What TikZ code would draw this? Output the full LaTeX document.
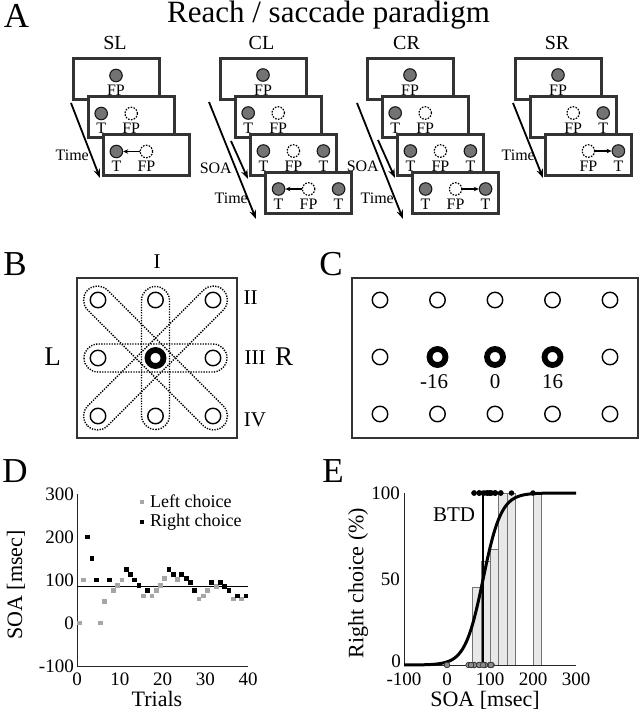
\documentclass[tikz,border=0pt]{standalone}
\usepackage{fontspec}
\setmainfont{Liberation Serif}
\usetikzlibrary{arrows.meta,positioning}
\newcommand{\fsz}[1]{\fontsize{#1}{#1}\selectfont}

\begin{document}
\begin{tikzpicture}[
  x=1pt, y=-1pt,
  panel/.style={font=\fsz{35}, inner sep=0, anchor=base},
  ttl/.style={font=\fsz{31}, inner sep=0, anchor=base},
  cond/.style={font=\fsz{20}, inner sep=0, anchor=base},
  frm/.style={draw=black!80, line width=3pt, fill=white, minimum width=86pt, minimum height=41pt, inner sep=0},
  tdot/.style={circle, draw=black!90, fill=black!55, line width=1.1pt, minimum size=12.5pt, inner sep=0},
  fpdash/.style={circle, draw, fill=white, dash pattern=on 1.6pt off 1.3pt, line width=1.2pt, minimum size=12.5pt, inner sep=0},
  lbl/.style={font=\fsz{16}, inner sep=0, anchor=base},
  timelbl/.style={font=\fsz{16}, inner sep=0, anchor=east},
  timearr/.style={-{Stealth[length=9pt,width=6.5pt]}, line width=1.8pt},
  movearr/.style={-{Stealth[length=5pt,width=4.5pt]}, line width=1.3pt},
  bbox/.style={draw=black!80, line width=1.6pt},
  bloop/.style={draw=black, line width=1.4pt, dash pattern=on 1.3pt off 1.3pt, rounded corners=14pt},
  bring/.style={circle, draw, fill=white, line width=1.4pt, minimum size=15.5pt, inner sep=0},
  bthick/.style={circle, draw, fill=white, line width=5.8pt, minimum size=16pt, inner sep=0},
  blbl/.style={font=\fsz{21}, inner sep=0},
  sidelbl/.style={font=\fsz{27}, inner sep=0},
  axln/.style={draw=black!85, line width=1pt},
  tklbl/.style={font=\fsz{19}, inner sep=0},
  leglbl/.style={font=\fsz{18}, inner sep=0, anchor=west},
  axlbl/.style={font=\fsz{22}, inner sep=0},
  lsq/.style={fill=black!35, minimum size=4.8pt, inner sep=0},
  rsq/.style={fill=black, minimum size=4.8pt, inner sep=0},
  ebar/.style={draw=black!55, fill=black!9, line width=0.8pt},
  rdot/.style={circle, fill=black, minimum size=5.5pt, inner sep=0},
  ldot/.style={circle, draw=black!80, fill=black!45, line width=0.6pt, minimum size=5.5pt, inner sep=0},
  sigm/.style={line width=3pt},
  btd/.style={line width=2.2pt}
]
\useasboundingbox (0,0) rectangle (640,719);

\node[panel] (la) at (16.5,28) {A};
\node[ttl] (title) at (328.5,23) {Reach / saccade paradigm};
\node[cond] (sl) at (115,50) {SL};
\node[cond] (cl) at (261.5,50) {CL};
\node[cond] (cr) at (406.5,50) {CR};
\node[cond] (sr) at (557,50) {SR};

\coordinate (slta) at (71,103);
\coordinate (sltb) at (100,178);
\draw[timearr] (slta) -- (sltb);
\node[timelbl] (sltime) at (89,155) {Time};
\node[frm] (sl1) at (116,79.5) {};
\node[tdot] (sl1f) at (116,75.5) {};
\node[lbl] (sl1fl) at (116,96) {FP};
\node[frm] (sl2) at (131.2,117.5) {};
\node[tdot] (sl2t) at (101.2,113.5) {};
\node[fpdash] (sl2f) at (131.2,113.5) {};
\node[lbl] (sl2tl) at (101.2,134) {T};
\node[lbl] (sl2fl) at (131.2,134) {FP};
\node[frm] (sl3) at (146.4,155.5) {};
\node[tdot] (sl3t) at (116.4,151.5) {};
\node[fpdash] (sl3f) at (146.4,151.5) {};
\node[lbl] (sl3tl) at (116.4,172) {T};
\node[lbl] (sl3fl) at (146.4,172) {FP};
\draw[movearr] (sl3f) -- (sl3t);

\coordinate (clta) at (209,102);
\coordinate (cltb) at (256,219);
\coordinate (clsa) at (231,141);
\coordinate (clsb) at (248,179);
\draw[timearr] (clta) -- (cltb);
\draw[timearr] (clsa) -- (clsb);
\node[timelbl] (clsoa) at (232,168) {SOA};
\node[timelbl] (cltime) at (248,198) {Time};
\node[frm] (cl1) at (263,79) {};
\node[tdot] (cl1f) at (263,75) {};
\node[lbl] (cl1fl) at (263,95.5) {FP};
\node[frm] (cl2) at (278.2,117) {};
\node[tdot] (cl2t) at (248.2,113) {};
\node[fpdash] (cl2f) at (278.2,113) {};
\node[lbl] (cl2tl) at (248.2,133.5) {T};
\node[lbl] (cl2fl) at (278.2,133.5) {FP};
\node[frm] (cl3) at (293.4,155) {};
\node[tdot] (cl3t) at (263.4,151) {};
\node[fpdash] (cl3f) at (293.4,151) {};
\node[tdot] (cl3r) at (323.4,151) {};
\node[lbl] (cl3tl) at (263.4,171.5) {T};
\node[lbl] (cl3fl) at (293.4,171.5) {FP};
\node[lbl] (cl3rl) at (323.4,171.5) {T};
\node[frm] (cl4) at (308.6,193) {};
\node[tdot] (cl4t) at (278.6,189) {};
\node[fpdash] (cl4f) at (308.6,189) {};
\node[tdot] (cl4r) at (338.6,189) {};
\node[lbl] (cl4tl) at (278.6,209.5) {T};
\node[lbl] (cl4fl) at (308.6,209.5) {FP};
\node[lbl] (cl4rl) at (338.6,209.5) {T};
\draw[movearr] (cl4f) -- (cl4t);

\coordinate (crta) at (357,103);
\coordinate (crtb) at (403,219);
\coordinate (crsa) at (378,140);
\coordinate (crsb) at (395,178);
\draw[timearr] (crta) -- (crtb);
\draw[timearr] (crsa) -- (crsb);
\node[timelbl] (crsoa) at (379,166) {SOA};
\node[timelbl] (crtime) at (394,198) {Time};
\node[frm] (cr1) at (410,79) {};
\node[tdot] (cr1f) at (410,75) {};
\node[lbl] (cr1fl) at (410,95.5) {FP};
\node[frm] (cr2) at (425.2,117) {};
\node[tdot] (cr2t) at (395.2,113) {};
\node[fpdash] (cr2f) at (425.2,113) {};
\node[lbl] (cr2tl) at (395.2,133.5) {T};
\node[lbl] (cr2fl) at (425.2,133.5) {FP};
\node[frm] (cr3) at (440.4,155) {};
\node[tdot] (cr3t) at (410.4,151) {};
\node[fpdash] (cr3f) at (440.4,151) {};
\node[tdot] (cr3r) at (470.4,151) {};
\node[lbl] (cr3tl) at (410.4,171.5) {T};
\node[lbl] (cr3fl) at (440.4,171.5) {FP};
\node[lbl] (cr3rl) at (470.4,171.5) {T};
\node[frm] (cr4) at (455.6,193) {};
\node[tdot] (cr4t) at (425.6,189) {};
\node[fpdash] (cr4f) at (455.6,189) {};
\node[tdot] (cr4r) at (485.6,189) {};
\node[lbl] (cr4tl) at (425.6,209.5) {T};
\node[lbl] (cr4fl) at (455.6,209.5) {FP};
\node[lbl] (cr4rl) at (485.6,209.5) {T};
\draw[movearr] (cr4f) -- (cr4r);

\coordinate (srta) at (513,103);
\coordinate (srtb) at (543,178);
\draw[timearr] (srta) -- (srtb);
\node[timelbl] (srtime) at (535,155) {Time};
\node[frm] (sr1) at (558,79) {};
\node[tdot] (sr1f) at (558,75) {};
\node[lbl] (sr1fl) at (558,95.5) {FP};
\node[frm] (sr2) at (573.2,117) {};
\node[fpdash] (sr2f) at (573.2,113) {};
\node[tdot] (sr2t) at (603.2,113) {};
\node[lbl] (sr2fl) at (573.2,133.5) {FP};
\node[lbl] (sr2tl) at (603.2,133.5) {T};
\node[frm] (sr3) at (588.4,155) {};
\node[fpdash] (sr3f) at (588.4,151) {};
\node[tdot] (sr3t) at (618.4,151) {};
\node[lbl] (sr3fl) at (588.4,171.5) {FP};
\node[lbl] (sr3tl) at (618.4,171.5) {T};
\draw[movearr] (sr3f) -- (sr3t);

\node[panel] (lb) at (15,275) {B};
\draw[bbox] (77,278) rectangle (237,438);
\foreach \a/\l in {0/71.5,45/96,90/71.5,135/96}
  \draw[bloop, shift={(155.5,358)}, rotate=\a] (-\l,-14) rectangle (\l,14);
\foreach \px/\py [count=\i] in {98/300,155.5/300,213/300,98/358,213/358,98/416,155.5/416,213/416}
  \node[bring] (b\i) at (\px,\py) {};
\node[bthick] (b0) at (155.5,358) {};
\node[blbl] (bI) at (157,261.5) {I};
\node[blbl] (bII) at (250.5,298) {II};
\node[blbl] (bIII) at (255,358) {III};
\node[blbl] (bIV) at (255,420) {IV};
\node[sidelbl] (bL) at (52.5,357) {L};
\node[sidelbl] (bR) at (284,357) {R};

\node[panel] (lc) at (331,275) {C};
\draw[bbox] (352,278) rectangle (638,438);
\foreach \px [count=\i] in {380,437.5,495,552.5,610} {
  \node[bring] (ct\i) at (\px,300) {};
  \node[bring] (cb\i) at (\px,414) {};
}
\node[bring] (cm1) at (380,357) {};
\node[bthick] (cm2) at (437.5,357) {};
\node[bthick] (cm3) at (495,357) {};
\node[bthick] (cm4) at (552.5,357) {};
\node[bring] (cm5) at (610,357) {};
\node[blbl] (c16l) at (434,382) {-16};
\node[blbl] (c0) at (495,382) {0};
\node[blbl] (c16r) at (552.5,382) {16};

\node[panel] (ld) at (15,482) {D};
\begin{scope}[shift={(77,623)}, x=4.28pt, y=0.43pt]
  \draw[axln] (0,300) -- (0,-100) -- (40,-100);
  \foreach \v in {300,200,100,0,-100}
    \node[tklbl, anchor=east, xshift=-3pt] (dy\v) at (0,\v) {\v};
  \foreach \t in {0,10,20,30,40}
    \node[tklbl, anchor=north, yshift=-7pt] (dx\t) at (\t,-100) {\t};
  \draw[line width=1.1pt] (0,84) -- (40,84);
  \foreach \t/\v in {1/0,2/100,6/0,7/50,9/75,10/88,11/100,16/63,18/63,19/75,20/88,21/104,24/102,29/56,30/63,31/75,33/84,37/56,39/56}
    \node[lsq] (dl\t) at (\t-0.5,\v) {};
  \foreach \t/\v in {3/200,4/150,5/100,8/100,12/125,13/112,14/100,15/88,17/75,22/125,23/112,25/112,26/104,27/94,28/75,32/94,34/94,35/84,36/75,38/63,40/63}
    \node[rsq] (dr\t) at (\t-0.5,\v) {};
\end{scope}
\node[lsq] (legl) at (142,502) {};
\node[leglbl] (leglt) at (150,501) {Left choice};
\node[rsq] (legr) at (142,522) {};
\node[leglbl] (legrt) at (150,522) {Right choice};
\node[axlbl, rotate=90] (dylab) at (16,585) {SOA [msec]};
\node[axlbl] (dxlab) at (157,699) {Trials};

\node[panel] (le) at (333,482) {E};
\begin{scope}[shift={(447,665)}, x=0.43pt, y=1.72pt]
  \foreach \a/\b/\h in {60/80/45,80/100/60,100/120/67,120/140/100,140/160/100,200/220/100}
    \draw[ebar] (\a,0) rectangle (\b,\h);
  \draw[axln] (-100,100) -- (-100,0) -- (300,0);
  \node[tklbl, anchor=east, xshift=-4pt] (ey100) at (-100,100) {100};
  \node[tklbl, anchor=east, xshift=-4pt] (ey50) at (-100,50) {50};
  \node[tklbl, anchor=south east, xshift=-3pt, yshift=-3pt] (ey0) at (-100,0) {0};
  \foreach \s in {-100,0,100,200,300}
    \node[tklbl, anchor=north, yshift=-8pt] (ex\s) at (\s,0) {\s};
  \draw[btd] (84,0) -- (84,100);
  \draw[sigm] plot[domain=-100:300, samples=150] (\x, {100/(1+exp(-(\x-84)/21))});
  \foreach \s [count=\k] in {200,150,100,100,125,112,100,88,75,125,112,112,104,94,75,94,94,84,75,63,63}
    \node[rdot] (er\k) at (\s,100) {};
  \foreach \s [count=\k] in {0,100,0,50,75,88,100,63,63,75,88,104,102,56,63,75,84,56,56}
    \node[ldot] (el\k) at (\s,0) {};
\end{scope}
\node[blbl] (btdl) at (454,515) {BTD};
\node[axlbl, rotate=90] (eylab) at (358,583) {Right choice (\%)};
\node[axlbl] (exlab) at (485,700) {SOA [msec]};
\end{tikzpicture}
\end{document}
